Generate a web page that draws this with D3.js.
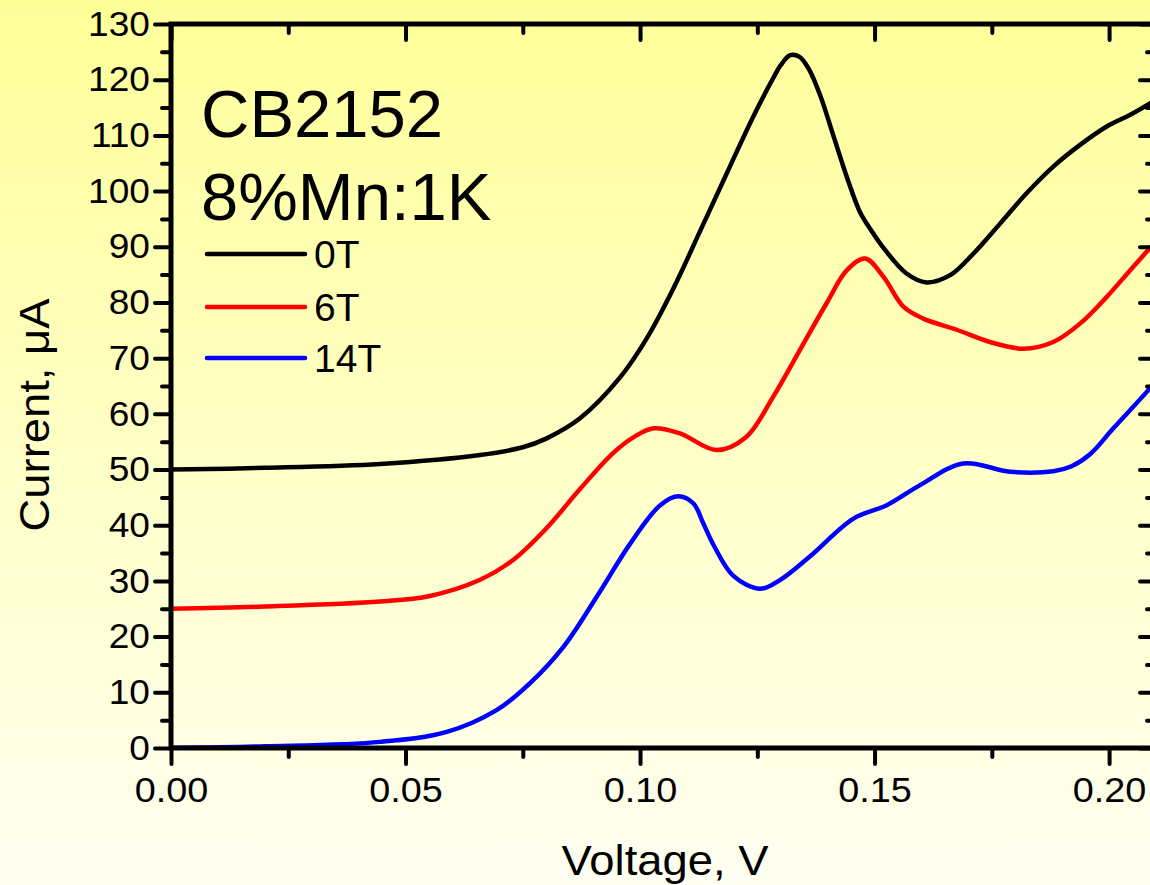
<!DOCTYPE html>
<html>
<head>
<meta charset="utf-8">
<script src="https://cdn.jsdelivr.net/npm/d3@7/dist/d3.min.js"></script>
<style>
html,body{margin:0;padding:0;}
svg{display:block;}
text{font-family:"Liberation Sans",Arial,sans-serif;fill:#000;}
</style>
</head>
<body>
<svg id="chart" width="1150" height="885"></svg>
<script>
// ---- data ----
const volts0T = [0,0.02,0.0446,0.0659,0.0750,0.0801,0.0872,0.0957,0.1014,0.1071,0.1128,0.1185,0.1241,0.1284,0.1300,0.1320,0.1340,0.1360,0.1384,0.1412,0.1441,0.1469,0.1494,0.1519,0.1568,0.1611,0.1661,0.1711,0.1768,0.1824,0.1881,0.1938,0.1995,0.2045,0.2100];
const current0T = [50.0,50.3,51.0,52.6,54.0,55.6,59.2,66.5,73.5,82.5,92.8,103.2,113.3,120.3,122.6,124.4,124.1,121.9,117.2,110.0,102.5,96.2,92.8,89.8,85.2,83.6,84.9,88.8,94.2,99.6,104.4,108.3,111.6,113.7,116.4];

const volts6T = [0,0.02,0.0446,0.0552,0.0659,0.0730,0.0801,0.0872,0.0943,0.0990,0.1029,0.1085,0.1163,0.1227,0.1284,0.1341,0.1398,0.1441,0.1480,0.1519,0.1562,0.1604,0.1675,0.1746,0.1817,0.1881,0.1938,0.1995,0.2045,0.2100];
const current6T = [25.0,25.4,26.3,27.3,30.2,33.8,39.5,46.5,53.0,56.0,57.4,56.5,53.5,55.9,63.1,71.5,79.9,85.8,87.9,84.6,79.2,77.1,75.1,72.9,71.7,72.9,76.2,81.0,85.8,91.0];

const volts14T = [0,0.02,0.0446,0.0588,0.0694,0.0765,0.0837,0.0908,0.0979,0.1043,0.1082,0.1114,0.1135,0.1157,0.1199,0.1256,0.1299,0.1362,0.1455,0.1526,0.1597,0.1689,0.1789,0.1881,0.1920,0.1960,0.2009,0.2084,0.2100];
const current14T = [0.0,0.3,1.1,2.9,6.8,11.6,18.2,27.2,36.7,43.6,45.2,43.9,40.3,36.4,30.9,28.6,30.2,34.4,41.2,43.6,47.2,51.1,49.6,49.7,50.6,52.8,57.4,64.3,66.0];

const seriesNames = ["0T","6T","14T"];
const seriesColors = ["#000000","#ff0000","#0000ff"];
const xTickValues = [0,0.05,0.10,0.15,0.20];
const xTickLabels = ["0.00","0.05","0.10","0.15","0.20"];
const yTickValues = [0,10,20,30,40,50,60,70,80,90,100,110,120,130];
const titleLines = ["CB2152","8%Mn:1K"];

// ---- layout ----
const svg = d3.select("#chart");
const L = 171, R = 1156, T = 24, B = 748;
const FONT = "Liberation Sans, Arial, sans-serif";

const defs = svg.append("defs");
const grad = defs.append("linearGradient").attr("id","bg").attr("x1",0).attr("y1",0).attr("x2",0).attr("y2",1);
grad.append("stop").attr("offset","0%").attr("stop-color","#ffff99");
grad.append("stop").attr("offset","100%").attr("stop-color","#fffff2");
svg.append("rect").attr("width",1150).attr("height",885).attr("fill","url(#bg)");

const x = d3.scaleLinear().domain([0,0.21]).range([L,R]);
const y = d3.scaleLinear().domain([0,130]).range([B,T]);

defs.append("clipPath").attr("id","clip").append("rect")
  .attr("x",L).attr("y",T).attr("width",R-L).attr("height",B-T);

// curves
const series = [
  {v:volts0T, c:current0T},
  {v:volts6T, c:current6T},
  {v:volts14T, c:current14T}
];
const line = d3.line().x(d=>x(d[0])).y(d=>y(d[1])).curve(d3.curveCatmullRom.alpha(0.5));
const gLines = svg.append("g").attr("clip-path","url(#clip)");
series.forEach((s,i)=>{
  const pts = s.v.map((v,j)=>[v,s.c[j]]);
  gLines.append("path").datum(pts).attr("d",line)
    .attr("fill","none").attr("stroke",seriesColors[i]).attr("stroke-width",4.5)
    .attr("stroke-linejoin","round");
});

// axes
function styleAxis(g){
  g.select(".domain").remove();
  g.selectAll(".tick line").attr("stroke","#000").attr("stroke-width",4).attr("stroke-linecap","round");
}
const xMinor = d3.range(0.025,0.21,0.05);
const yMinor = d3.range(5,130,10);

// bottom
const gB = svg.append("g").attr("transform",`translate(0,${B})`);
gB.call(d3.axisBottom(x).tickValues(xTickValues).tickSize(16).tickPadding(13).tickFormat((d,i)=>xTickLabels[i]));
gB.append("g").call(d3.axisBottom(x).tickValues(xMinor).tickSize(9).tickFormat(""));
styleAxis(gB);
gB.selectAll(".tick text").attr("font-size",35).attr("font-family",FONT).attr("fill","#000")
  .attr("transform","scale(1.08,1)");

// top
const gT = svg.append("g").attr("transform",`translate(0,${T})`);
gT.call(d3.axisBottom(x).tickValues(xTickValues).tickSize(16).tickFormat(""));
gT.append("g").call(d3.axisBottom(x).tickValues(xMinor).tickSize(9).tickFormat(""));
styleAxis(gT);

// left
const gL = svg.append("g").attr("transform",`translate(${L},0)`);
gL.call(d3.axisLeft(y).tickValues(yTickValues).tickSize(16).tickPadding(5));
gL.append("g").call(d3.axisLeft(y).tickValues(yMinor).tickSize(9).tickFormat(""));
styleAxis(gL);
gL.selectAll(".tick text").attr("font-size",35).attr("font-family",FONT).attr("fill","#000")
  .attr("x",0).attr("transform","translate(-21,0) scale(1.06,1)");

// right
const gR = svg.append("g").attr("transform",`translate(${R},0)`);
gR.call(d3.axisLeft(y).tickValues(yTickValues).tickSize(16).tickFormat(""));
gR.append("g").call(d3.axisLeft(y).tickValues(yMinor).tickSize(9).tickFormat(""));
styleAxis(gR);

// frame
svg.append("rect").attr("x",L).attr("y",T).attr("width",R-L).attr("height",B-T)
  .attr("fill","none").attr("stroke","#000").attr("stroke-width",5);

// axis titles
svg.append("text").attr("transform","translate(665,875) scale(1.08,1)").attr("text-anchor","middle")
  .attr("font-size",42).text("Voltage, V");
svg.append("text").attr("transform","translate(49,415) rotate(-90) scale(1.08,1)").attr("text-anchor","middle")
  .attr("font-size",42).text("Current, μA");

// title
titleLines.forEach((t,i)=>{
  svg.append("text").attr("x",201).attr("y",137+i*83).attr("font-size",67).text(t);
});

// legend
const legY = [254,307,358];
seriesNames.forEach((n,i)=>{
  svg.append("line").attr("x1",207).attr("x2",305).attr("y1",legY[i]).attr("y2",legY[i])
    .attr("stroke",seriesColors[i]).attr("stroke-width",4.5).attr("stroke-linecap","round");
  svg.append("text").attr("x",314).attr("y",legY[i]+14).attr("font-size",39).text(n);
});
</script>
</body>
</html>
